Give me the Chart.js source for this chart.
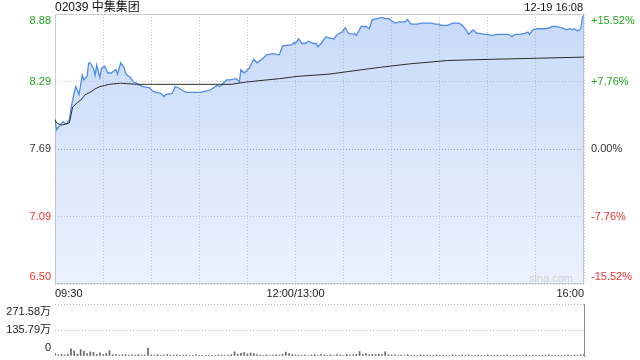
<!DOCTYPE html>
<html>
<head>
<meta charset="utf-8">
<script src="https://cdn.jsdelivr.net/npm/chart.js@4.4.1/dist/chart.umd.min.js"></script>
<style>
  body { margin: 0; width: 640px; height: 360px; background: #fff; position: relative; overflow: hidden;
         font-family: Arial, "Liberation Sans", "Noto Sans CJK SC", sans-serif; }
  #title { position: absolute; left: 55px; top: 0; font-size: 12px; line-height: 15px; color: #111; }
  #stamp { position: absolute; right: 57px; top: 0; font-size: 11px; line-height: 15px; color: #111; }
  #mark  { position: absolute; right: 67px; top: 272px; font-size: 11px; line-height: 13px; color: #cfcfcf; }
  #priceBox { position: absolute; left: 0; top: 0; width: 640px; height: 300px; }
  #volBox   { position: absolute; left: 0; top: 300px; width: 640px; height: 60px; }
</style>
</head>
<body>
<div id="priceBox"><canvas id="price-chart"></canvas></div>
<div id="volBox"><canvas id="volume-chart"></canvas></div>
<div id="title">02039 中集集团</div>
<div id="stamp">12-19 16:08</div>
<div id="mark">sina.com</div>
<script>
// minutes since 09:30, lunch break squeezed out (12:00 and 13:00 share minute 150)
const timeTicks = [0, 30, 60, 90, 120, 150, 180, 210, 240, 270, 300, 330];
const timeLabels = ['09:30', '', '', '', '', '12:00/13:00', '', '', '', '', '', '16:00'];

const priceTicks = [6.50, 7.095, 7.69, 8.285, 8.88];
const priceLabels = ['6.50', '7.09', '7.69', '8.29', '8.88'];
const pctTicks = [-15.52, -7.76, 0, 7.76, 15.52];
const pctLabels = ['-15.52%', '-7.76%', '0.00%', '+7.76%', '+15.52%'];
const tickColors = ['#f0302a', '#f0302a', '#333333', '#1fa61f', '#1fa61f'];

const priceMin = [
  0, 1, 3, 5, 7, 9, 10, 12, 13, 15,
  17, 18, 20, 21, 22, 24, 25, 26, 28, 29,
  31, 33, 35, 38, 39, 41, 43, 44, 45, 47,
  49, 51, 53, 55, 59, 61, 63, 66, 68, 69,
  73, 75, 77, 79, 82, 86, 91, 94, 97, 99,
  101, 103, 105, 107, 109, 113, 115, 116, 118, 121,
  124, 126, 129, 132, 136, 140, 141, 142, 148, 149,
  150, 152, 154, 156, 158, 161, 163, 164, 166, 169,
  171, 174, 176, 179, 181, 183, 186, 187, 188, 191,
  194, 196, 198, 201, 204, 206, 208, 210, 212, 215,
  218, 220, 222, 226, 229, 235, 237, 239, 241, 245,
  248, 252, 254, 257, 258, 260, 261, 263, 265, 268,
  270, 272, 276, 279, 281, 283, 285, 287, 290, 293,
  295, 296, 298, 301, 306, 309, 310, 312, 316, 319,
  321, 323, 324, 326, 328, 329, 330
];
const price = [
  7.95, 7.86, 7.90, 7.93, 7.91, 7.95, 8.05, 8.19, 8.24, 8.17,
  8.34, 8.30, 8.33, 8.45, 8.45, 8.40, 8.34, 8.43, 8.32, 8.40,
  8.42, 8.36, 8.36, 8.39, 8.35, 8.45, 8.41, 8.36, 8.34, 8.32,
  8.28, 8.27, 8.25, 8.24, 8.23, 8.20, 8.19, 8.18, 8.15, 8.17,
  8.18, 8.24, 8.23, 8.21, 8.19, 8.19, 8.19, 8.20, 8.21, 8.23,
  8.25, 8.24, 8.27, 8.30, 8.30, 8.31, 8.28, 8.39, 8.36, 8.40,
  8.48, 8.45, 8.48, 8.52, 8.53, 8.52, 8.56, 8.60, 8.61, 8.63,
  8.62, 8.66, 8.62, 8.62, 8.64, 8.62, 8.62, 8.59, 8.62, 8.68,
  8.67, 8.66, 8.70, 8.72, 8.76, 8.71, 8.70, 8.71, 8.69, 8.77,
  8.77, 8.75, 8.83, 8.84, 8.85, 8.84, 8.84, 8.82, 8.80, 8.81,
  8.81, 8.83, 8.79, 8.79, 8.80, 8.80, 8.79, 8.79, 8.78, 8.78,
  8.80, 8.80, 8.78, 8.73, 8.70, 8.73, 8.74, 8.71, 8.71, 8.70,
  8.70, 8.69, 8.70, 8.70, 8.70, 8.70, 8.68, 8.70, 8.70, 8.71,
  8.72, 8.70, 8.74, 8.75, 8.75, 8.76, 8.77, 8.77, 8.76, 8.74,
  8.75, 8.74, 8.75, 8.73, 8.75, 8.85, 8.87
];

const avgMin = [0, 1, 4, 9, 11, 14, 16, 19, 22, 25, 28, 31, 34, 41, 51, 61, 110, 119, 140, 151, 171, 192, 203, 221, 245, 270, 301, 330];
const avgPrice = [7.95, 7.92, 7.90, 7.92, 8.06, 8.10, 8.12, 8.17, 8.19, 8.22, 8.24, 8.25, 8.26, 8.27, 8.26, 8.26, 8.26, 8.28, 8.31, 8.33, 8.35, 8.39, 8.41, 8.44, 8.47, 8.48, 8.49, 8.50];

// volume (万股), one bar every 2 minutes
const volStep = 2;
const volume = [
  14, 6, 8, 5, 9, 37, 26, 10, 33, 24,
  12, 22, 19, 9, 17, 8, 13, 28, 7, 9,
  5, 6, 8, 4, 6, 5, 7, 4, 5, 42,
  6, 4, 7, 3, 5, 8, 4, 5, 6, 3,
  4, 5, 3, 4, 6, 3, 4, 3, 5, 4,
  3, 6, 4, 3, 5, 7, 22, 9, 14, 18,
  11, 16, 13, 8, 5, 4, 6, 3, 5, 7,
  4, 9, 21, 12, 8, 6, 5, 4, 6, 3,
  5, 7, 4, 9, 5, 3, 6, 4, 7, 5,
  3, 8, 5, 6, 9, 23, 8, 12, 6, 9,
  7, 10, 8, 22, 7, 5, 6, 4, 5, 3,
  7, 4, 5, 3, 6, 4, 5, 3, 4, 6,
  3, 5, 4, 3, 6, 4, 3, 5, 4, 6,
  3, 4, 5, 3, 4, 6, 3, 4, 5, 3,
  4, 6, 3, 4, 5, 3, 4, 6, 3, 5,
  4, 3, 5, 4, 6, 3, 4, 5, 3, 4,
  6, 3, 5, 4, 6, 9
];
const volTicks = [0, 135.79, 271.58];
const volLabels = ['0', '135.79万', '271.58万'];

const FONT = 'Arial, "Liberation Sans", "Noto Sans CJK SC", sans-serif';
const LEFT_W = 55, RIGHT_W = 56;

// first / last labels pushed inside the box by padding them with an empty line
function innerLabel(labels) {
  return (v, i) => {
    if (i === 0) return [labels[0], ''];
    if (i === labels.length - 1) return ['', labels[i]];
    return labels[i];
  };
}

// fixed axis widths, and no extra room reserved for the overhanging labels
function fixWidth(w) {
  return (s) => {
    s.width = w;
    s.paddingTop = 0;
    s.paddingBottom = 0;
  };
}

const framePlugin = {
  id: 'frame',
  beforeDatasetsDraw(chart) {
    const { ctx, chartArea: a } = chart;
    ctx.save();
    ctx.strokeStyle = '#cccccc';
    ctx.lineWidth = 1;
    ctx.strokeRect(a.left + 0.5, a.top + 0.5, a.right - a.left - 1, a.bottom - a.top - 1);
    ctx.restore();
  },
};

new Chart(document.getElementById('price-chart'), {
  type: 'line',
  data: {
    datasets: [
      {
        label: '均价',
        data: avgMin.map((m, i) => ({ x: m, y: avgPrice[i] })),
        borderColor: '#2b2b2b',
        borderWidth: 1,
        pointRadius: 0,
        fill: false,
        yAxisID: 'y',
      },
      {
        label: '价格',
        data: priceMin.map((m, i) => ({ x: m, y: price[i] })),
        borderColor: '#4f8bec',
        borderWidth: 1.3,
        pointRadius: 0,
        fill: 'start',
        backgroundColor: (c) => {
          const a = c.chart.chartArea;
          if (!a) return 'rgba(120,165,240,0.3)';
          const g = c.chart.ctx.createLinearGradient(0, a.top, 0, a.bottom);
          g.addColorStop(0, 'rgba(120,165,240,0.41)');
          g.addColorStop(1, 'rgba(120,165,240,0.15)');
          return g;
        },
        yAxisID: 'y',
      },
    ],
  },
  options: {
    responsive: true,
    maintainAspectRatio: false,
    animation: false,
    events: [],
    layout: { padding: { top: 14, left: 0, right: 0, bottom: 0 } },
    scales: {
      x: {
        type: 'linear',
        min: 0,
        max: 330,
        afterBuildTicks: (s) => { s.ticks = timeTicks.map(v => ({ value: v })); },
        afterFit: (s) => { s.height = 16; s.paddingLeft = 0; s.paddingRight = 0; },
        ticks: {
          autoSkip: false, maxRotation: 0, align: 'inner', padding: 3,
          color: '#222', font: { family: FONT, size: 11 },
          callback: (v, i) => timeLabels[i],
        },
        grid: { color: '#c8c8c8', drawTicks: false },
        border: { display: false, dash: [1, 2] },
      },
      y: {
        position: 'left',
        min: 6.50,
        max: 8.88,
        afterBuildTicks: (s) => { s.ticks = priceTicks.map(v => ({ value: v })); },
        afterFit: fixWidth(LEFT_W),
        ticks: {
          autoSkip: false,
          padding: 4,
          color: (c) => tickColors[c.index],
          font: { family: FONT, size: 11, lineHeight: 1.2 },
          callback: innerLabel(priceLabels),
        },
        grid: {
          drawTicks: false,
          color: (c) => (c.index === 2 ? '#9a9a9a' : '#c8c8c8'),
        },
        border: { display: false, dash: [1, 2] },
      },
      yPct: {
        position: 'right',
        min: -15.52,
        max: 15.52,
        afterBuildTicks: (s) => { s.ticks = pctTicks.map(v => ({ value: v })); },
        afterFit: fixWidth(RIGHT_W),
        ticks: {
          autoSkip: false,
          padding: 7,
          color: (c) => tickColors[c.index],
          font: { family: FONT, size: 11, lineHeight: 1.2 },
          callback: innerLabel(pctLabels),
        },
        grid: { display: false, drawTicks: false },
        border: { display: false },
      },
    },
    plugins: { legend: { display: false }, tooltip: { enabled: false } },
  },
  plugins: [framePlugin],
});

new Chart(document.getElementById('volume-chart'), {
  type: 'bar',
  data: {
    datasets: [{
      label: '成交量',
      data: volume.map((v, i) => ({ x: i * volStep, y: v })),
      backgroundColor: '#666666',
      barThickness: 1,
      yAxisID: 'y',
    }],
  },
  options: {
    responsive: true,
    maintainAspectRatio: false,
    animation: false,
    events: [],
    layout: { padding: { top: 4, bottom: 4, left: 0, right: 0 } },
    scales: {
      x: { type: 'linear', min: 0, max: 330, offset: false, display: false },
      y: {
        position: 'left',
        min: 0,
        max: 271.58,
        afterBuildTicks: (s) => { s.ticks = volTicks.map(v => ({ value: v })); },
        afterFit: fixWidth(LEFT_W),
        ticks: {
          autoSkip: false,
          padding: 4,
          color: '#222',
          font: { family: FONT, size: 11, lineHeight: 1.45 },
          callback: innerLabel(volLabels),
        },
        grid: {
          drawTicks: false,
          color: (c) => (c.index === 0 ? 'rgba(0,0,0,0)' : '#b8b8b8'),
        },
        border: { display: false, dash: [1, 2] },
      },
      yEdge: {
        position: 'right',
        afterFit: fixWidth(RIGHT_W),
        ticks: { display: false },
        grid: { display: false, drawTicks: false },
        border: { display: true, color: '#8c8c8c' },
      },
    },
    plugins: { legend: { display: false }, tooltip: { enabled: false } },
  },
});
</script>
</body>
</html>
